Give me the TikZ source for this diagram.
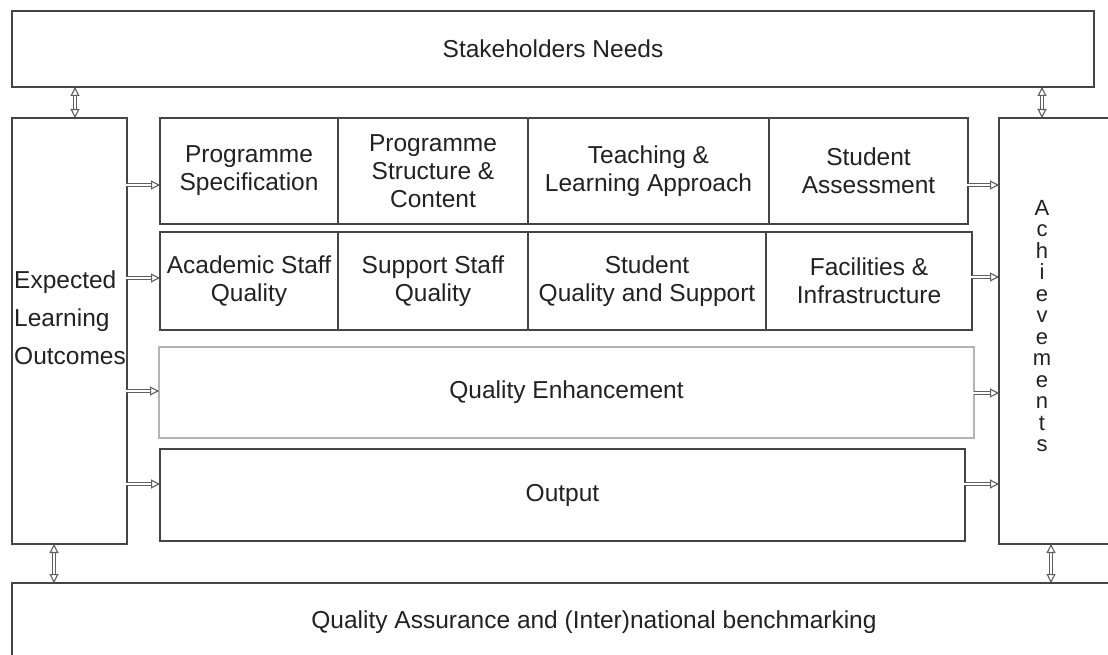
\documentclass[tikz,border=0pt]{standalone}
\usepackage{fontspec}
\setmainfont{Liberation Sans}
\usetikzlibrary{arrows.meta,calc}
\definecolor{ln}{HTML}{454545}
\definecolor{tx}{HTML}{222222}
\definecolor{qe}{HTML}{B4B4B4}
\definecolor{ar}{HTML}{606060}
\tikzset{
  box/.style={draw=ln, line width=1.9pt, inner sep=0pt, outer sep=0pt, anchor=north west,
    align=center, text=tx, font=\fontsize{24.5}{28}\selectfont},
  qebox/.style={box, draw=qe, line width=1.2pt},
  shaftout/.style={draw=ar, line width=4.2pt},
  shaftin/.style={draw=white, line width=1.8pt},
  headtip/.style={draw=ar, fill=white, line width=1.1pt, -{Triangle[open,length=9pt,width=9pt,fill=white]}}
}
\newcommand\onearrow[2]{%
  \draw[shaftout, shorten >=8pt] #1 -- #2;
  \draw[shaftin, shorten >=7pt, shorten <=-1pt] #1 -- #2;
  \draw[headtip] ($#2!1pt!#1$) -- #2;}
\newcommand\twoarrow[2]{%
  \draw[shaftout, shorten >=8pt, shorten <=8pt] #1 -- #2;
  \draw[shaftin, shorten >=7pt, shorten <=7pt] #1 -- #2;
  \draw[headtip] ($#2!1pt!#1$) -- #2;
  \draw[headtip] ($#1!1pt!#2$) -- #1;}
\begin{document}
\begin{tikzpicture}[x=1pt,y=-1pt]
\useasboundingbox (0,0) rectangle (1108,655);
\clip (0,0) rectangle (1108,655);
\fill[white] (0,0) rectangle (1108,655);
% big frames
\node[box, minimum width=1082pt, minimum height=76pt] (top) at (12,11) {Stakeholders Needs};
\node[box, minimum width=115pt, minimum height=426pt] (elo) at (12,118) {};
\node[text=tx, align=left, inner sep=0pt, anchor=west, font=\fontsize{24.5}{38}\selectfont] (elotxt) at (14,318) {Expected\\Learning\\Outcomes};
\node[box, minimum width=140pt, minimum height=426pt] (ach) at (999,118) {};
\node[text=tx, align=center, inner sep=0pt, font=\fontsize{22}{21.5}\selectfont] (achtxt) at (1042,326) {A\\c\\h\\i\\e\\v\\e\\m\\e\\n\\t\\s};
\node[box, minimum width=1164pt, minimum height=78pt] (bot) at (12,583) {Quality Assurance and (Inter)national benchmarking};
% row 1
\node[box, minimum width=178pt, minimum height=106pt] (ps) at (160,118) {Programme\\Specification};
\node[box, minimum width=190pt, minimum height=106pt] (psc) at (338,118) {Programme\\Structure \&\\Content};
\node[box, minimum width=241pt, minimum height=106pt] (tla) at (528,118) {Teaching \&\\Learning Approach};
\node[box, minimum width=199pt, minimum height=106pt] (sa) at (769,118) {Student\\Assessment};
% row 2
\node[box, minimum width=178pt, minimum height=98pt] (asq) at (160,232) {Academic Staff\\Quality};
\node[box, minimum width=190pt, minimum height=98pt] (ssq) at (338,232) {Support Staff\\Quality};
\node[box, minimum width=238pt, minimum height=98pt] (sqs) at (528,232) {Student\\Quality and Support};
\node[box, minimum width=206pt, minimum height=98pt] (fi) at (766,232) {Facilities \&\\Infrastructure};
% QE and output
\node[qebox, minimum width=815pt, minimum height=91pt] (qe) at (159,347) {Quality Enhancement};
\node[box, minimum width=805pt, minimum height=92pt] (out) at (160,449) {Output};
% left arrows
\onearrow{([yshift=-14pt]ps.west -| elo.east)}{([yshift=-14pt]ps.west)}
\onearrow{([yshift=3pt]asq.west -| elo.east)}{([yshift=3pt]asq.west)}
\onearrow{([yshift=1.5pt]qe.west -| elo.east)}{([yshift=1.5pt]qe.west)}
\onearrow{([yshift=11pt]out.west -| elo.east)}{([yshift=11pt]out.west)}
% right arrows
\onearrow{([yshift=-14pt]sa.east)}{([yshift=-14pt]sa.east -| ach.west)}
\onearrow{([yshift=4pt]fi.east)}{([yshift=4pt]fi.east -| ach.west)}
\onearrow{([yshift=-0.5pt]qe.east)}{([yshift=-0.5pt]qe.east -| ach.west)}
\onearrow{([yshift=11pt]out.east)}{([yshift=11pt]out.east -| ach.west)}
% vertical arrows
\twoarrow{([xshift=5.5pt]elo.north |- top.south)}{([xshift=5.5pt]elo.north)}
\twoarrow{(achtxt.north |- top.south)}{(achtxt.north |- ach.north)}
\twoarrow{([xshift=-15.5pt]elo.south)}{([xshift=-15.5pt]elo.south |- bot.north)}
\twoarrow{([xshift=9pt]achtxt.south |- ach.south)}{([xshift=9pt]achtxt.south |- bot.north)}
\end{tikzpicture}
\end{document}
